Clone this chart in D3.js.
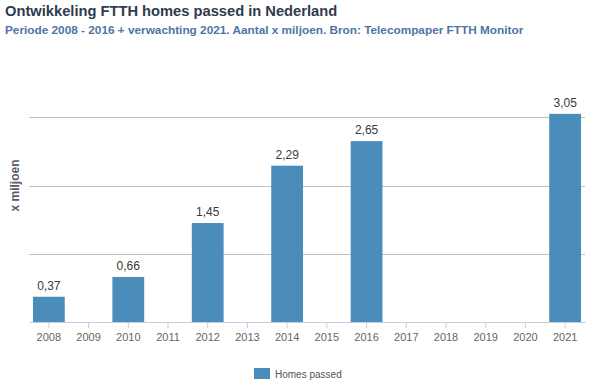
<!DOCTYPE html>
<html>
<head>
<meta charset="utf-8">
<script src="https://cdn.jsdelivr.net/npm/d3@7"></script>
<style>
  body { margin: 0; background: #fff; }
  svg { display: block; font-family: "Liberation Sans", Arial, sans-serif; }
</style>
</head>
<body>
<div class="chart-container"></div>
<script>
// chart data
const years = ["2008", "2009", "2010", "2011", "2012", "2013", "2014",
               "2015", "2016", "2017", "2018", "2019", "2020", "2021"];
const homesPassed = [0.37, null, 0.66, null, 1.45, null, 2.29,
                     null, 2.65, null, null, null, null, 3.05];
const gridValues = [1, 2, 3];
const seriesName = "Homes passed";

const width = 594;
const height = 385;
const plot = { left: 29, right: 585, top: 49, bottom: 322 };

const svg = d3.select(".chart-container").append("svg")
    .attr("width", width)
    .attr("height", height);

const x = d3.scaleBand()
    .domain(years)
    .range([plot.left, plot.right])
    .paddingInner(0.2)
    .paddingOuter(0.1);

const y = d3.scaleLinear()
    .domain([0, 4])
    .range([plot.bottom, plot.top]);

// titles
svg.append("text")
    .attr("x", 5).attr("y", 16)
    .style("font-size", "14.7px")
    .style("font-weight", "bold")
    .style("fill", "#2f3b4e")
    .text("Ontwikkeling FTTH homes passed in Nederland");

svg.append("text")
    .attr("x", 5).attr("y", 34)
    .style("font-size", "11.8px")
    .style("font-weight", "bold")
    .style("fill", "#4f73a6")
    .text("Periode 2008 - 2016 + verwachting 2021. Aantal x miljoen. Bron: Telecompaper FTTH Monitor");

// gridlines
svg.append("g")
    .selectAll("line")
    .data(gridValues)
    .join("line")
    .attr("x1", plot.left).attr("x2", plot.right)
    .attr("y1", d => Math.round(y(d)) + 0.5)
    .attr("y2", d => Math.round(y(d)) + 0.5)
    .attr("stroke", "#c0c0c0");

// y axis title
svg.append("text")
    .attr("transform", "translate(19," + (plot.top + plot.bottom) / 2 + ") rotate(-90)")
    .attr("text-anchor", "middle")
    .style("font-size", "12px")
    .style("font-weight", "bold")
    .style("fill", "#5a5a66")
    .text("x miljoen");

// bars
const data = years.map((yr, i) => ({ year: yr, value: homesPassed[i] }))
    .filter(d => d.value !== null);

svg.append("g")
    .selectAll("rect")
    .data(data)
    .join("rect")
    .attr("x", d => x(d.year))
    .attr("width", x.bandwidth())
    .attr("y", d => y(d.value))
    .attr("height", d => y(0) - y(d.value))
    .attr("fill", "#4a8cba");

// data labels
svg.append("g")
    .selectAll("text")
    .data(data)
    .join("text")
    .attr("x", d => x(d.year) + x.bandwidth() / 2)
    .attr("y", d => y(d.value) - 7)
    .attr("text-anchor", "middle")
    .style("font-size", "12px")
    .style("fill", "#3a3a3a")
    .text(d => d3.format(".2f")(d.value).replace(".", ","));

// x axis
const xAxis = svg.append("g")
    .attr("transform", "translate(0," + plot.bottom + ")")
    .call(d3.axisBottom(x).tickSizeOuter(0).tickSizeInner(6).tickPadding(5));
xAxis.select(".domain").attr("stroke", "#c0d0e0");
xAxis.selectAll(".tick line").attr("stroke", "#c0d0e0");
xAxis.selectAll(".tick text")
    .style("font-size", "11px")
    .style("font-family", "'Liberation Sans', Arial, sans-serif")
    .style("fill", "#666");

// legend
const legend = svg.append("g").attr("transform", "translate(254,368)");
legend.append("rect")
    .attr("width", 16).attr("height", 11)
    .attr("fill", "#4a8cba");
legend.append("text")
    .attr("x", 21).attr("y", 10)
    .style("font-size", "10px")
    .style("fill", "#555")
    .text(seriesName);
</script>
</body>
</html>
